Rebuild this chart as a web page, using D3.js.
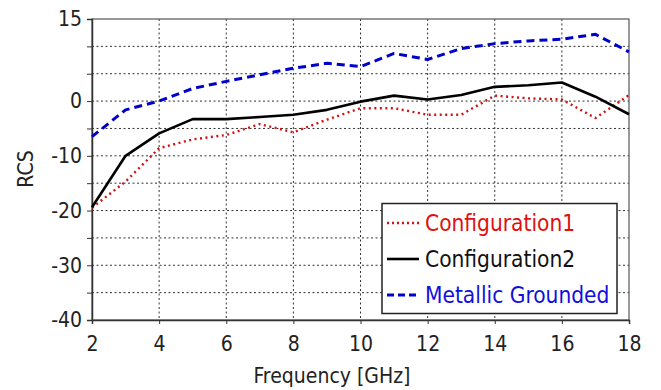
<!DOCTYPE html>
<html>
<head>
<meta charset="utf-8">
<script src="https://cdn.jsdelivr.net/npm/d3@7"></script>
<style>
  html, body { margin: 0; padding: 0; background: #fff; }
  svg text { font-family: "DejaVu Sans Condensed", "DejaVu Sans", sans-serif; }
</style>
</head>
<body>
<svg id="chart" width="661" height="390"></svg>
<script>
// Frequency sweep (GHz)
const frequency = [2, 3, 4, 5, 6, 7, 8, 9, 10, 11, 12, 13, 14, 15, 16, 17, 18];
// RCS values per configuration
const configuration1 = [-19.5, -14.7, -8.6, -7.0, -6.2, -4.2, -5.7, -3.4, -1.3, -1.3, -2.5, -2.5, 1.0, 0.5, 0.3, -3.1, 1.1];
const configuration2 = [-19.4, -10.0, -5.9, -3.3, -3.3, -2.9, -2.5, -1.6, -0.1, 1.0, 0.3, 1.1, 2.6, 2.9, 3.4, 0.8, -2.4];
const metallicGrounded = [-6.5, -1.6, 0.0, 2.3, 3.6, 4.8, 6.0, 6.9, 6.3, 8.7, 7.6, 9.6, 10.5, 11.0, 11.3, 12.2, 9.0];
// Axis ticks
const xTicks = [2, 4, 6, 8, 10, 12, 14, 16, 18];
const yGrid = [15, 10, 5, 0, -5, -10, -15, -20, -25, -30, -35, -40];
const yLabels = [15, 0, -10, -20, -30, -40];

const svg = d3.select("#chart");
const m = { left: 92, right: 629, top: 19, bottom: 320 };

const x = d3.scaleLinear().domain([2, 18]).range([m.left, m.right]);
const y = d3.scaleLinear().domain([-40, 15]).range([m.bottom, m.top]);

// Dotted grid
const grid = svg.append("g").attr("stroke", "#333").attr("stroke-width", 1)
  .attr("stroke-dasharray", "2,2.5");
grid.selectAll("line.gx").data(xTicks.slice(1, -1)).join("line")
  .attr("x1", d => x(d)).attr("x2", d => x(d))
  .attr("y1", m.top).attr("y2", m.bottom);
grid.selectAll("line.gy").data(yGrid.slice(1, -1)).join("line")
  .attr("x1", m.left).attr("x2", m.right)
  .attr("y1", d => y(d)).attr("y2", d => y(d));

// Frame
svg.append("rect").attr("x", m.left).attr("y", m.top)
  .attr("width", m.right - m.left).attr("height", m.bottom - m.top)
  .attr("fill", "none").attr("stroke", "#555").attr("stroke-width", 1.2);

// Axes
const xAxis = svg.append("g").attr("transform", `translate(0,${m.bottom})`)
  .call(d3.axisBottom(x).tickValues(xTicks).tickSize(4).tickPadding(12).tickFormat(d3.format("d")));
const yAxis = svg.append("g").attr("transform", `translate(${m.left},0)`)
  .call(d3.axisLeft(y).tickValues(yGrid).tickSize(5).tickPadding(5)
    .tickFormat(d => yLabels.includes(d) ? String(d) : ""));
[xAxis, yAxis].forEach(a => {
  a.select(".domain").attr("stroke", "#333").attr("stroke-width", 1.5);
  a.selectAll(".tick line").attr("stroke", "#333");
  a.selectAll("text").attr("font-size", 21).attr("fill", "#222")
    .style("font-family", "'DejaVu Sans Condensed', 'DejaVu Sans', sans-serif");
});

// Axis titles
svg.append("text").attr("x", 332).attr("y", 383).attr("text-anchor", "middle")
  .attr("font-size", 21).attr("fill", "#222").text("Frequency [GHz]");
svg.append("text").attr("transform", "translate(33,169) rotate(-90)")
  .attr("text-anchor", "middle").attr("font-size", 21).attr("fill", "#222").text("RCS");

// Series
const series = [
  { name: "Configuration1", values: configuration1, color: "#d41010", width: 2.4, dash: "2,3.5", text: "#e01010" },
  { name: "Configuration2", values: configuration2, color: "#000", width: 2.6, dash: null, text: "#111" },
  { name: "Metallic Grounded", values: metallicGrounded, color: "#0000cc", width: 3, dash: "8,5", text: "#1010dd" }
];
const line = d3.line().x((d, i) => x(frequency[i])).y(d => y(d));
svg.append("g").selectAll("path").data(series).join("path")
  .attr("d", s => line(s.values))
  .attr("fill", "none")
  .attr("stroke", s => s.color)
  .attr("stroke-width", s => s.width)
  .attr("stroke-dasharray", s => s.dash)
  .attr("stroke-linejoin", "round");

// Legend
const lg = svg.append("g");
lg.append("rect").attr("x", 382).attr("y", 203.5).attr("width", 235).attr("height", 110)
  .attr("fill", "#fff").attr("stroke", "#222").attr("stroke-width", 1.5);
const rowY = [223, 259, 295];
series.forEach((s, i) => {
  lg.append("line").attr("x1", 387).attr("x2", 419).attr("y1", rowY[i]).attr("y2", rowY[i])
    .attr("stroke", s.color).attr("stroke-width", s.width)
    .attr("stroke-dasharray", s.dash ? (i === 2 ? "7,4" : "2,3") : null);
  lg.append("text").attr("x", 425).attr("y", rowY[i]).attr("dy", "0.36em")
    .attr("font-size", 22.5).attr("fill", s.text).text(s.name);
});
</script>
</body>
</html>
